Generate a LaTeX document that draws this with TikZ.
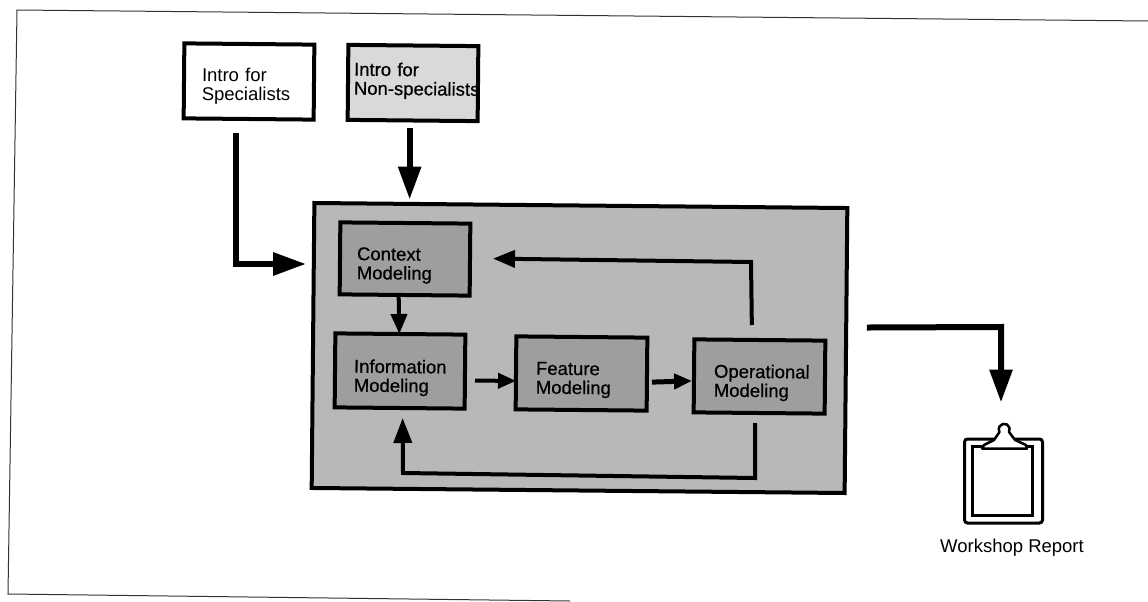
\documentclass[tikz,border=0pt]{standalone}
\usepackage{fontspec}
\setmainfont{Liberation Sans}
\newfontfamily\scanfont[FakeBold=0.6]{Liberation Sans}
\usetikzlibrary{arrows.meta}
\definecolor{maingrey}{gray}{0.72}
\definecolor{innergrey}{gray}{0.62}
\definecolor{lightgrey}{gray}{0.85}
\newcommand{\twolines}[5][0]{\rule{0pt}{#3pt}\hspace*{#2pt}#4\\\hspace*{#2pt}#5\rule[-#1pt]{0pt}{#1pt}}
\tikzset{
  sheet/.style={line width=1pt,draw=black!80},
  boxnode/.style={draw=black,line width=4pt,rectangle,inner sep=0pt,outer sep=0pt,rotate=-0.54,
    align=left,font=\fontsize{18.5}{19}\selectfont},
  flow/.style={draw=black,line width=#1,line join=miter},
  tipbig/.style={-{Triangle[length=33pt,width=22pt]}},
  tipmid/.style={-{Triangle[length=22pt,width=17pt]}},
  tipsmall/.style={-{Triangle[length=18pt,width=15pt]}}
}
\begin{document}
\begin{tikzpicture}[x=1pt,y=-1pt]
\useasboundingbox (0,0) rectangle (1148,602);
% sheet border
\coordinate (sTR) at (1148,21);
\coordinate (sTL) at (17,10);
\coordinate (sBL) at (8,594);
\coordinate (sBE) at (570,601);
\draw[sheet] (sTR) -- (sTL) -- (sBL) -- (sBE);
% boxes
\node[boxnode,text width=130pt,minimum height=75pt] (spec) at (249,81.5) {\twolines{18}{23}{Intro for}{Specialists}};
\node[boxnode,fill=lightgrey,text width=130pt,minimum height=75pt] (nonspec) at (413,83) {\scanfont\twolines[8]{6}{13}{Intro for}{\mbox{Non-specialists}}};
\node[boxnode,fill=maingrey,minimum width=533pt,minimum height=285pt] (main) at (579.5,348) {};
\node[boxnode,fill=innergrey,text width=130pt,minimum height=72pt] (ctx) at (405,259) {\scanfont\twolines{17}{26}{Context}{Modeling}};
\node[boxnode,fill=innergrey,text width=130pt,minimum height=74pt] (info) at (400,371) {\scanfont\twolines{19}{27}{Information}{Modeling}};
\node[boxnode,fill=innergrey,text width=131pt,minimum height=73pt] (feat) at (581.5,373.5) {\scanfont\twolines{20}{26}{Feature}{Modeling}};
\node[boxnode,fill=innergrey,text width=131pt,minimum height=73pt] (op) at (759.5,376.5) {\scanfont\twolines{20}{26}{Operational}{Modeling}};
% clipboard
\node[draw=black,line width=3pt,fill=white,rectangle,rounded corners=3pt,inner sep=0pt,minimum width=78pt,minimum height=84pt] (clipb) at (1003.5,481) {};
\node[draw=black,line width=3pt,fill=white,rectangle,inner sep=0pt,minimum width=60pt,minimum height=69pt] (sheetin) at (1002,480.5) {};
\draw[line width=2.5pt,fill=white,line join=round] (982,448.5) -- (1027,448.5) -- (1026,445) -- (1015,440) -- (1009,432)
  arc[start angle=-30,end angle=210,radius=5.5pt] -- (994,440) -- (984,445) -- cycle;
\node[font=\fontsize{18.5}{19}\selectfont,inner sep=0pt] (report) at (1012,548) {Workshop Report};
% connectors
\draw[flow=6pt,tipbig] ([xshift=-13pt,yshift=-14pt]spec.south) |- ([xshift=-7pt,yshift=81.5pt]main.west);
\draw[flow=6pt,tipbig] ([xshift=-3pt,yshift=-8pt]nonspec.south) -- ([xshift=-3pt,yshift=6pt]nonspec.south |- main.north);
\draw[flow=4pt,-{Triangle[length=20pt,width=16pt]}] ([xshift=-6pt]ctx.south) -- ([xshift=-1pt]info.north);
\draw[flow=4pt,tipsmall] ([xshift=10pt,yshift=-9pt]info.east) -- ([xshift=0pt,yshift=-8pt]feat.west);
\draw[flow=5pt,tipsmall] ([xshift=5pt,yshift=-8pt]feat.east) -- ([xshift=-2pt,yshift=-5pt]op.west);
\coordinate (backA) at (751,262);
\draw[flow=4pt,tipmid] ([xshift=-8pt,yshift=15pt]op.north) -- (backA) -- ([xshift=23pt,yshift=1pt]ctx.east);
\coordinate (backB) at (755,478);
\coordinate (backC) at (403,473);
\draw[flow=4pt,-{Triangle[length=25pt,width=18pt]}] ([xshift=-4pt,yshift=-10pt]op.south) -- (backB) -- (backC) -- ([xshift=3pt,yshift=-10pt]info.south);
\coordinate (outA) at (1001,327);
\draw[flow=6pt,tipbig] ([xshift=21pt,yshift=23pt]main.east) -- (outA) -- ([xshift=-2.5pt,yshift=35pt]clipb.north);
\end{tikzpicture}
\end{document}
